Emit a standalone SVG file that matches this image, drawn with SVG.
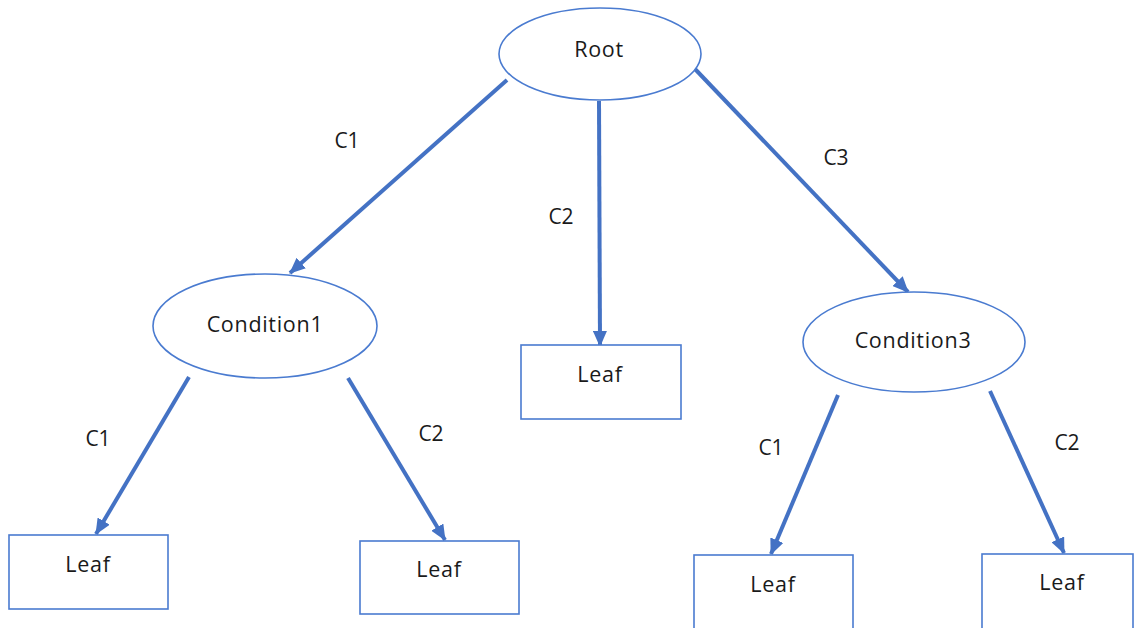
<svg xmlns="http://www.w3.org/2000/svg" width="1135" height="628" viewBox="0 0 1135 628">
<style>
.node{fill:#fff;stroke:#4a7bd0;stroke-width:1.6}
.edge{stroke:#4472C4;stroke-width:4;fill:none}
.t{font-family:"Open Sans","Liberation Sans",sans-serif;font-size:21.5px;fill:#1a1a1a;text-anchor:middle;letter-spacing:0.7px}
.lb{font-family:"Open Sans","Liberation Sans",sans-serif;font-size:21px;fill:#1a1a1a;text-anchor:middle}
</style>
<defs>
<marker id="ah" markerUnits="userSpaceOnUse" markerWidth="16" markerHeight="14" refX="15" refY="7" orient="auto">
<path d="M0,0 L16,7 L0,14 Z" fill="#4472C4"/>
</marker>
</defs>
<rect width="1135" height="628" fill="#fff"/>
<g id="connectors">
<line class="edge" x1="507" y1="80" x2="290" y2="273" marker-end="url(#ah)"/>
<line class="edge" x1="599" y1="101" x2="600" y2="346" marker-end="url(#ah)"/>
<line class="edge" x1="695" y1="69" x2="908" y2="292" marker-end="url(#ah)"/>
<line class="edge" x1="189" y1="377" x2="96" y2="534" marker-end="url(#ah)"/>
<line class="edge" x1="348" y1="378" x2="445" y2="540" marker-end="url(#ah)"/>
<line class="edge" x1="838" y1="395" x2="771" y2="554" marker-end="url(#ah)"/>
<line class="edge" x1="990" y1="391" x2="1064" y2="553" marker-end="url(#ah)"/>
<text class="lb" x="347" y="148">C1</text>
<text class="lb" x="561" y="224">C2</text>
<text class="lb" x="836" y="165">C3</text>
<text class="lb" x="98" y="446">C1</text>
<text class="lb" x="431" y="441">C2</text>
<text class="lb" x="771" y="455">C1</text>
<text class="lb" x="1067" y="450">C2</text>
</g>
<g id="root"><ellipse class="node" cx="600" cy="54" rx="101" ry="46"/><text class="t" x="599" y="57">Root</text></g>
<g id="cond1"><ellipse class="node" cx="265" cy="326" rx="112" ry="52"/><text class="t" x="265" y="332">Condition1</text></g>
<g id="cond3"><ellipse class="node" cx="914" cy="342" rx="111" ry="50"/><text class="t" x="913" y="348">Condition3</text></g>
<g id="leafC2"><rect class="node" x="521" y="345" width="160" height="74"/><text class="t" x="600" y="382">Leaf</text></g>
<g id="leaf1"><rect class="node" x="9" y="535" width="159" height="74"/><text class="t" x="88" y="572">Leaf</text></g>
<g id="leaf2"><rect class="node" x="360" y="541" width="159" height="73"/><text class="t" x="439" y="577">Leaf</text></g>
<g id="leaf3"><rect class="node" x="694" y="555" width="159" height="80"/><text class="t" x="773" y="592">Leaf</text></g>
<g id="leaf4"><rect class="node" x="982" y="554" width="151" height="80"/><text class="t" x="1062" y="590">Leaf</text></g>
</svg>
